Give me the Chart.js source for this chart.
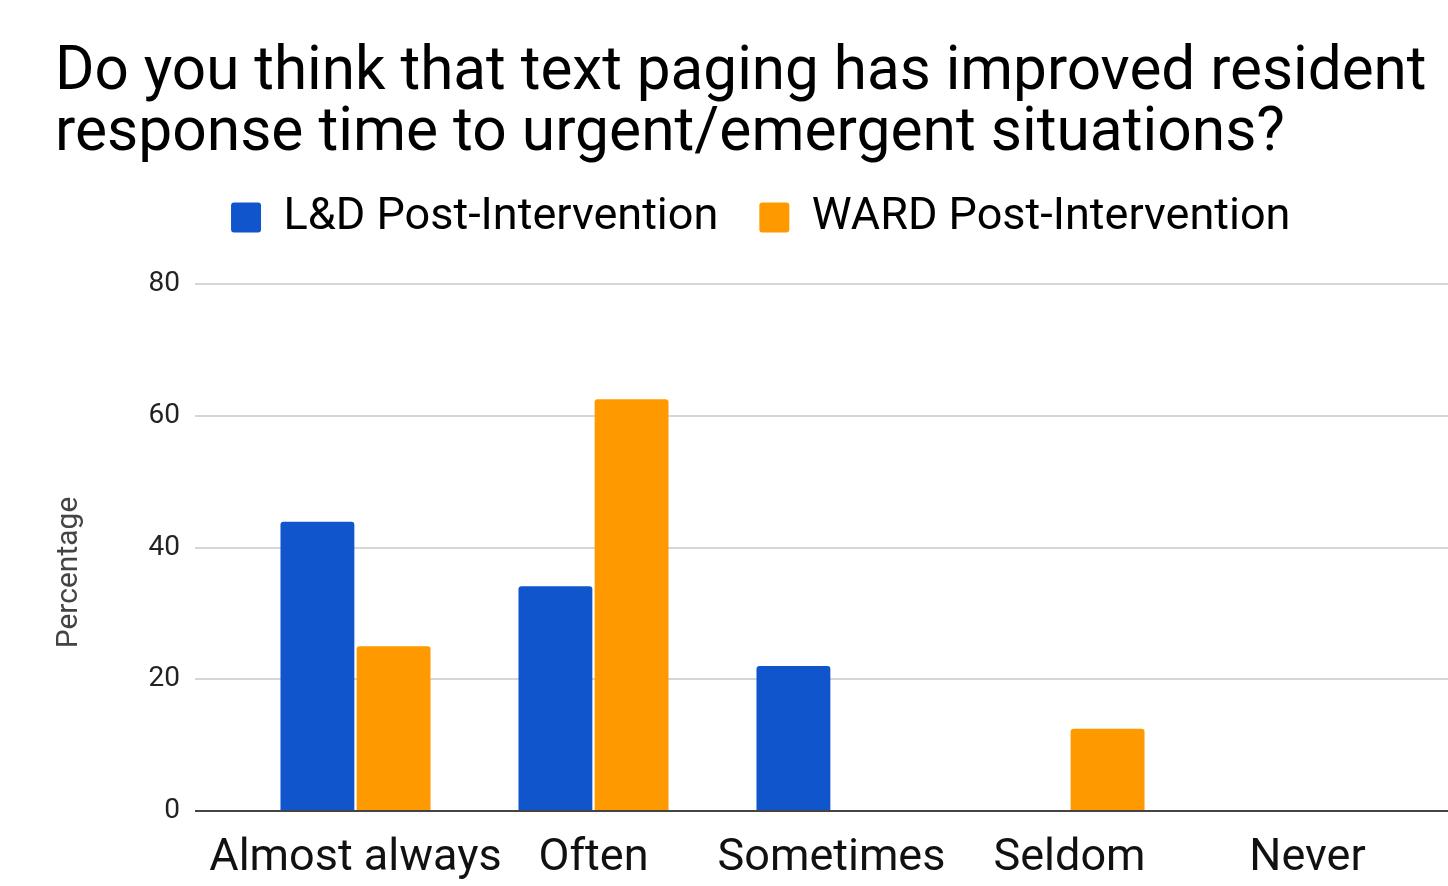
<!DOCTYPE html>
<html>
<head>
<meta charset="utf-8">
<script src="https://cdn.jsdelivr.net/npm/chart.js@4.4.1/dist/chart.umd.min.js"></script>
<style>
  html, body { margin: 0; background: #fff; }
  canvas { display: block; }
</style>
</head>
<body>
<canvas id="chart" width="1448" height="886"></canvas>
<script>
const categories = ['Almost always', 'Often', 'Sometimes', 'Seldom', 'Never']
const ldPost = [43.9, 34.1, 22.0, 0, 0]
const wardPost = [25, 62.5, 0, 12.5, 0]
const yTicks = [0, 20, 40, 60, 80]
const yTitle = 'Percentage'

const FONT = 'Roboto'

// horizontal rules run past the plot area, from just right of the tick labels to the edge
const extendedGrid = {
  id: 'extendedGrid',
  beforeDatasetsDraw(chart) {
    const { ctx, scales: { y } } = chart
    ctx.save()
    ctx.lineWidth = 2
    ctx.strokeStyle = '#d6d6d6'
    y.ticks.forEach(t => {
      if (t.value === 0) return
      const py = Math.round(y.getPixelForValue(t.value))
      ctx.beginPath()
      ctx.moveTo(195, py)
      ctx.lineTo(chart.width, py)
      ctx.stroke()
    })
    ctx.restore()
  },
  afterDatasetsDraw(chart) {
    const { ctx, scales: { y } } = chart
    const py = Math.round(y.getPixelForValue(0))
    ctx.save()
    ctx.lineWidth = 2
    ctx.strokeStyle = '#444'
    ctx.beginPath()
    ctx.moveTo(195, py)
    ctx.lineTo(chart.width, py)
    ctx.stroke()
    ctx.restore()
  }
}

// legend row sits a bit right of centre and closer to the title
const legendPlacement = {
  id: 'legendPlacement',
  afterLayout(chart) {
    const lg = chart.legend
    lg.left += 20
    lg.right += 20
    lg.top -= 34
    lg.bottom -= 34
  }
}

// vertical axis caption, a little below the middle of the plot
const axisCaption = {
  id: 'axisCaption',
  afterDraw(chart) {
    const { ctx, chartArea } = chart
    const cy = (chartArea.top + chartArea.bottom) / 2 + 25
    ctx.save()
    ctx.translate(69, cy)
    ctx.rotate(-Math.PI / 2)
    ctx.fillStyle = '#444'
    ctx.font = `30px ${FONT}`
    ctx.textAlign = 'center'
    ctx.textBaseline = 'middle'
    ctx.fillText(yTitle, 0, 0)
    ctx.restore()
  }
}

new Chart(document.getElementById('chart'), {
  type: 'bar',
  data: {
    labels: categories,
    datasets: [
      {
        label: 'L&D Post-Intervention',
        data: ldPost,
        backgroundColor: '#1155cc',
        borderRadius: { topLeft: 3, topRight: 3 },
        borderSkipped: 'start'
      },
      {
        label: 'WARD Post-Intervention',
        data: wardPost,
        backgroundColor: '#ff9900',
        borderRadius: { topLeft: 3, topRight: 3 },
        borderSkipped: 'start'
      }
    ]
  },
  options: {
    responsive: false,
    animation: false,
    categoryPercentage: 0.64,
    barPercentage: 0.97,
    layout: { padding: { left: 55, right: 21.5, top: 0, bottom: 0 } },
    plugins: {
      tooltip: { enabled: false },
      title: {
        display: true,
        align: 'start',
        text: [
          'Do you think that text paging has improved resident',
          'response time to urgent/emergent situations?'
        ],
        color: '#000',
        font: { family: FONT, size: 60.5, weight: 'normal', lineHeight: 1.0 },
        padding: { top: 44, bottom: 23 }
      },
      legend: {
        position: 'top',
        labels: {
          boxWidth: 30,
          boxHeight: 30,
          padding: 41,
          color: '#000',
          useBorderRadius: true,
          borderRadius: 3,
          font: { family: FONT, size: 45 }
        }
      }
    },
    scales: {
      x: {
        grid: { display: false, drawTicks: false },
        border: { display: false },
        ticks: {
          color: '#111',
          padding: 21,
          autoSkip: false,
          maxRotation: 0,
          font: { family: FONT, size: 45 }
        },
        afterFit(scale) { scale.height = 75 }
      },
      y: {
        min: 0,
        max: 80,
        grid: { display: false, drawTicks: false },
        border: { display: false },
        afterBuildTicks(scale) { scale.ticks = yTicks.map(v => ({ value: v })) },
        afterFit(scale) { scale.width = 181.5 },
        ticks: {
          color: '#222',
          padding: 56.5,
          font: { family: FONT, size: 28 }
        }
      }
    }
  },
  plugins: [extendedGrid, legendPlacement, axisCaption]
})
</script>
</body>
</html>
